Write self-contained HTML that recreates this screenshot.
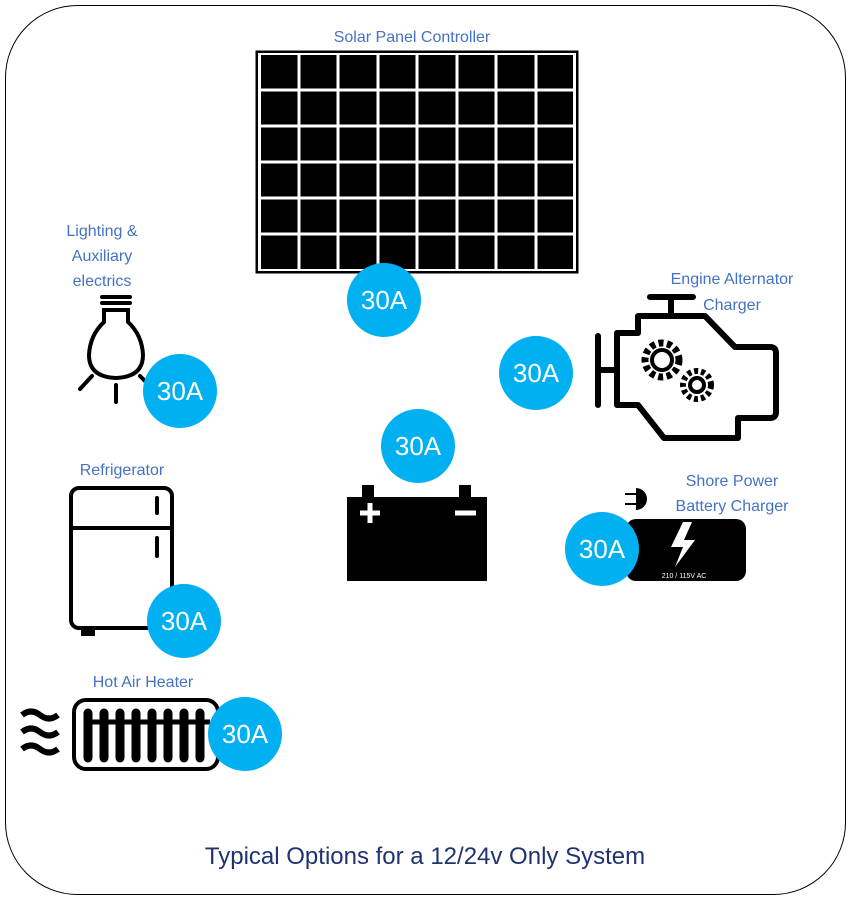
<!DOCTYPE html>
<html><head><meta charset="utf-8"><style>
body{margin:0;background:#fff}
svg text{font-family:"Liberation Sans",sans-serif}
</style></head><body>
<svg width="851" height="901" viewBox="0 0 851 901" xmlns="http://www.w3.org/2000/svg">
<rect x="5.5" y="5.5" width="840" height="889" rx="72" fill="#fff" stroke="#000" stroke-width="1"/>
<g fill="#4472c4" font-size="16" text-anchor="middle">
<text x="412" y="42">Solar Panel Controller</text>
<text x="102" y="236">Lighting &amp;</text>
<text x="102" y="261">Auxiliary</text>
<text x="102" y="286">electrics</text>
<text x="732" y="284">Engine Alternator</text>
<text x="732" y="310">Charger</text>
<text x="732" y="486">Shore Power</text>
<text x="732" y="511">Battery Charger</text>
<text x="122" y="475">Refrigerator</text>
<text x="143" y="687">Hot Air Heater</text>
</g>
<text x="425" y="864" fill="#1f3370" font-size="24" text-anchor="middle">Typical Options for a 12/24v Only System</text>
<rect x="257" y="52" width="320" height="220" fill="#000" stroke="#000" stroke-width="3"/>
<g fill="none" stroke="#fff" stroke-width="3">
<path d="M299 54V270M338 54V270M378 54V270M417 54V270M457 54V270M496 54V270M536 54V270"/>
<path d="M259 90H575M259 126H575M259 162H575M259 198H575M259 234H575"/>
<rect x="259.5" y="53.5" width="315" height="217"/>
</g>
<rect x="257" y="52" width="320" height="220" fill="none" stroke="#000" stroke-width="2"/>
<g fill="none" stroke="#000" stroke-width="4" stroke-linecap="round">
<path d="M102 297H130M102 303H130"/>
<path d="M104 310H128V322Q142 335 143 355Q143 377 116 378Q89 377 89 355Q90 335 104 322Z"/>
<path d="M116 385V402M92 376L80 389M140 376L150 386"/>
</g>
<g fill="none" stroke="#000" stroke-width="4">
<rect x="71" y="488" width="101" height="140" rx="8"/>
<path d="M71 528H172"/>
<path d="M157 498V513M157 538V556" stroke-linecap="round"/>
</g>
<rect x="81" y="626" width="14" height="10" fill="#000"/>
<rect x="74" y="700" width="144" height="69" rx="12" fill="none" stroke="#000" stroke-width="4"/>
<g stroke="#000" stroke-width="9" stroke-linecap="round">
<path d="M88 713V758M104 713V758M120 713V758M136 713V758M152 713V758M168 713V758M184 713V758M200 713V758"/>
</g>
<path d="M86 722H210" stroke="#000" stroke-width="5"/>
<g fill="none" stroke="#000" stroke-width="6">
<path d="M22 715Q31 708 40 715T58 715M22 732Q31 725 40 732T58 732M22 749Q31 742 40 749T58 749"/>
</g>
<g fill="none" stroke="#000" stroke-width="6" stroke-linejoin="round" stroke-linecap="round">
<path d="M650 297H693M671 297V316"/>
<path d="M638 316H705L735 347H770Q776 347 776 353V412Q776 418 770 418H738V438H664L638 405H617V333H638Z"/>
<path d="M598 336V405M598 370H617"/>
</g>
<g fill="none" stroke="#000">
<circle cx="662" cy="360" r="17" stroke-dasharray="5 3.5" stroke-width="7"/>
<circle cx="662" cy="360" r="10" stroke-width="4"/>
<circle cx="697" cy="385" r="14" stroke-dasharray="4 3" stroke-width="6"/>
<circle cx="697" cy="385" r="7" stroke-width="4"/>
</g>
<rect x="347" y="497" width="140" height="84" fill="#000"/>
<rect x="362" y="485" width="12" height="14" fill="#000"/>
<rect x="459" y="485" width="12" height="14" fill="#000"/>
<path d="M360 513H380M370 503V523M455 513H476" stroke="#fff" stroke-width="5"/>
<rect x="626" y="519" width="120" height="62" rx="10" fill="#000"/>
<path d="M683 522L671 547H683L675 567L695 540H684L692 522Z" fill="#fff"/>
<text x="684" y="578" fill="#fff" font-size="7" text-anchor="middle">210 / 115V AC</text>
<path d="M636 488A11 11 0 0 1 636 510Z" fill="#000"/>
<path d="M625 494H636M625 504H636" stroke="#000" stroke-width="2"/>
<g fill="#00b0f0">
<circle cx="384" cy="300" r="37"/>
<circle cx="180" cy="391" r="37"/>
<circle cx="536" cy="373" r="37"/>
<circle cx="418" cy="446" r="37"/>
<circle cx="602" cy="549" r="37"/>
<circle cx="184" cy="621" r="37"/>
<circle cx="245" cy="734" r="37"/>
</g>
<g fill="#fff" font-size="26" text-anchor="middle">
<text x="384" y="309">30A</text>
<text x="180" y="400">30A</text>
<text x="536" y="382">30A</text>
<text x="418" y="455">30A</text>
<text x="602" y="558">30A</text>
<text x="184" y="630">30A</text>
<text x="245" y="743">30A</text>
</g>
</svg>
</body></html>
